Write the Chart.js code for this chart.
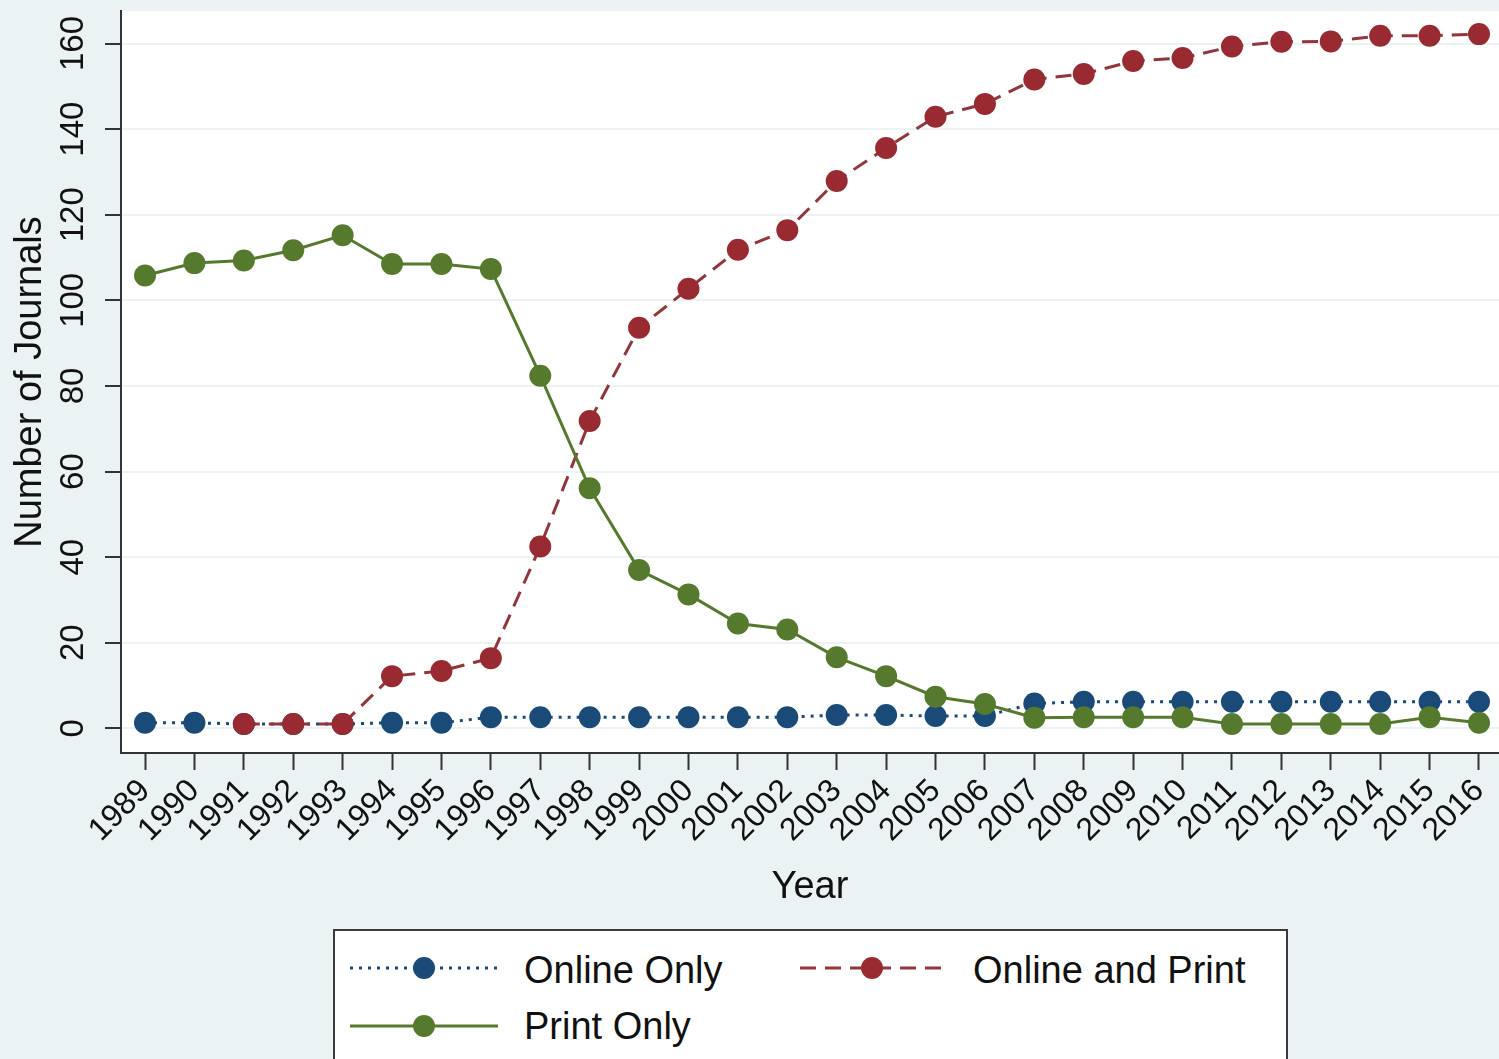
<!DOCTYPE html>
<html>
<head>
<meta charset="utf-8">
<script src="https://cdn.jsdelivr.net/npm/chart.js@4/dist/chart.umd.min.js"></script>
<style>
html,body{margin:0;padding:0;background:#eaf2f3;overflow:hidden;}
#wrap{position:relative;width:1499px;height:1059px;overflow:hidden;}
#c{position:absolute;left:0;top:0;}
#legend{position:absolute;left:333px;top:929px;width:951px;height:150px;border:2px solid #3a3a3a;background:#fff;font-family:'Liberation Sans',Arial,Helvetica,sans-serif;font-size:38px;color:#111;}
#legend .t{position:absolute;line-height:44px;white-space:nowrap;}
#legend svg{position:absolute;}
</style>
</head>
<body>
<div id="wrap">
<canvas id="c" width="1510" height="1059"></canvas>
<div id="legend">
  <svg style="left:15px;top:22px" width="150" height="30"><line x1="0" y1="15" x2="148" y2="15" stroke="#1a4a78" stroke-width="3" stroke-dasharray="3 6"/><circle cx="74" cy="15" r="11" fill="#1a4a78"/></svg>
  <div class="t" style="left:189px;top:17px">Online Only</div>
  <svg style="left:465px;top:22px" width="150" height="30"><line x1="0" y1="15" x2="148" y2="15" stroke="#93353c" stroke-width="3" stroke-dasharray="16 9"/><circle cx="72" cy="15" r="11" fill="#9a2a32"/></svg>
  <div class="t" style="left:638px;top:17px">Online and Print</div>
  <svg style="left:15px;top:80px" width="150" height="30"><line x1="0" y1="15" x2="148" y2="15" stroke="#557a2d" stroke-width="3"/><circle cx="74" cy="15" r="11" fill="#557a2d"/></svg>
  <div class="t" style="left:189px;top:73px">Print Only</div>
</div>
</div>
<script>
// ---- data ----
const years = [1989,1990,1991,1992,1993,1994,1995,1996,1997,1998,1999,2000,2001,2002,2003,2004,2005,2006,2007,2008,2009,2010,2011,2012,2013,2014,2015,2016];
const onlineOnly = [1.3,1.3,1.0,1.0,1.0,1.3,1.3,2.6,2.6,2.6,2.6,2.6,2.6,2.6,3.1,3.1,2.9,2.9,5.8,6.2,6.2,6.2,6.2,6.2,6.2,6.2,6.2,6.2];
const onlineAndPrint = [null,null,1.0,1.0,1.0,12.2,13.4,16.4,42.5,71.8,93.6,102.7,111.8,116.4,127.9,135.6,142.9,145.9,151.6,152.9,155.9,156.6,159.3,160.4,160.5,161.8,161.8,162.2];
const printOnly = [105.8,108.7,109.3,111.7,115.2,108.5,108.5,107.3,82.4,56.1,37.0,31.3,24.5,23.1,16.6,12.2,7.4,5.7,2.5,2.6,2.6,2.6,1.0,1.0,1.0,1.0,2.6,1.3];
const yTicks = [0,20,40,60,80,100,120,140,160];

const FONT = "'Liberation Sans', Arial, Helvetica, sans-serif";
const pts = arr => years.map((x,i)=>({x:x, y:arr[i]}));

const bgPlugin = {
  id:'bg',
  beforeDraw(chart){
    const {ctx, chartArea:a} = chart;
    ctx.save();
    ctx.fillStyle = '#eaf2f3';
    ctx.fillRect(0,0,chart.width,chart.height);
    ctx.fillStyle = '#ffffff';
    ctx.fillRect(a.left, a.top, chart.width - a.left, a.bottom - a.top);
    ctx.restore();
  }
};

new Chart(document.getElementById('c'), {
  type:'line',
  data:{
    datasets:[
      {label:'Print Only', data:pts(printOnly), borderColor:'#557a2d', backgroundColor:'#557a2d', borderWidth:3,
       pointRadius:11, pointBackgroundColor:'#557a2d', pointBorderWidth:0, tension:0, fill:false},
      {label:'Online and Print', data:pts(onlineAndPrint), borderColor:'#93353c', backgroundColor:'#9a2a32', borderWidth:3,
       borderDash:[16,9], pointRadius:11, pointBackgroundColor:'#9a2a32', pointBorderWidth:0, tension:0, fill:false, spanGaps:false},
      {label:'Online Only', data:pts(onlineOnly), borderColor:'#1a4a78', backgroundColor:'#1a4a78', borderWidth:3,
       borderDash:[3,6], pointRadius:11, pointBackgroundColor:'#1a4a78', pointBorderWidth:0, tension:0, fill:false}
    ]
  },
  options:{
    responsive:false,
    animation:false,
    events:[],
    layout:{padding:{top:10,left:0,right:0,bottom:0}},
    plugins:{legend:{display:false}, tooltip:{enabled:false}},
    scales:{
      x:{
        type:'linear', min:1988.514, max:2016.405,
        afterBuildTicks:s=>{ s.ticks = years.map(v=>({value:v})); },
        afterFit:s=>{ s.height = 306; s.paddingLeft = 0; s.paddingRight = 0; },
        ticks:{autoSkip:false, minRotation:45, maxRotation:45, padding:2, color:'#111',
               font:{size:32, family:FONT}, callback:v=>String(v)},
        grid:{drawOnChartArea:false, drawTicks:true, tickLength:17, tickColor:'#333', tickWidth:2},
        border:{display:true, color:'#333', width:2},
        title:{display:true, text:'Year', color:'#111', font:{size:38, family:FONT}, padding:{top:0,bottom:149}}
      },
      y:{
        min:-5.76, max:167.6,
        afterBuildTicks:s=>{ s.ticks = yTicks.map(v=>({value:v})); },
        afterFit:s=>{ s.width = 121; s.paddingTop = 0; s.paddingBottom = 0; },
        ticks:{minRotation:90, maxRotation:90, crossAlign:'center', padding:4, color:'#111',
               font:{size:33, family:FONT}},
        grid:{color:'#edf2f3', lineWidth:2, tickColor:'#333', tickLength:16, tickWidth:2},
        border:{display:true, color:'#333', width:2},
        title:{display:true, text:'Number of Journals', color:'#111', font:{size:38, family:FONT}, padding:{top:8,bottom:0}}
      }
    }
  },
  plugins:[bgPlugin]
});
</script>
</body>
</html>
